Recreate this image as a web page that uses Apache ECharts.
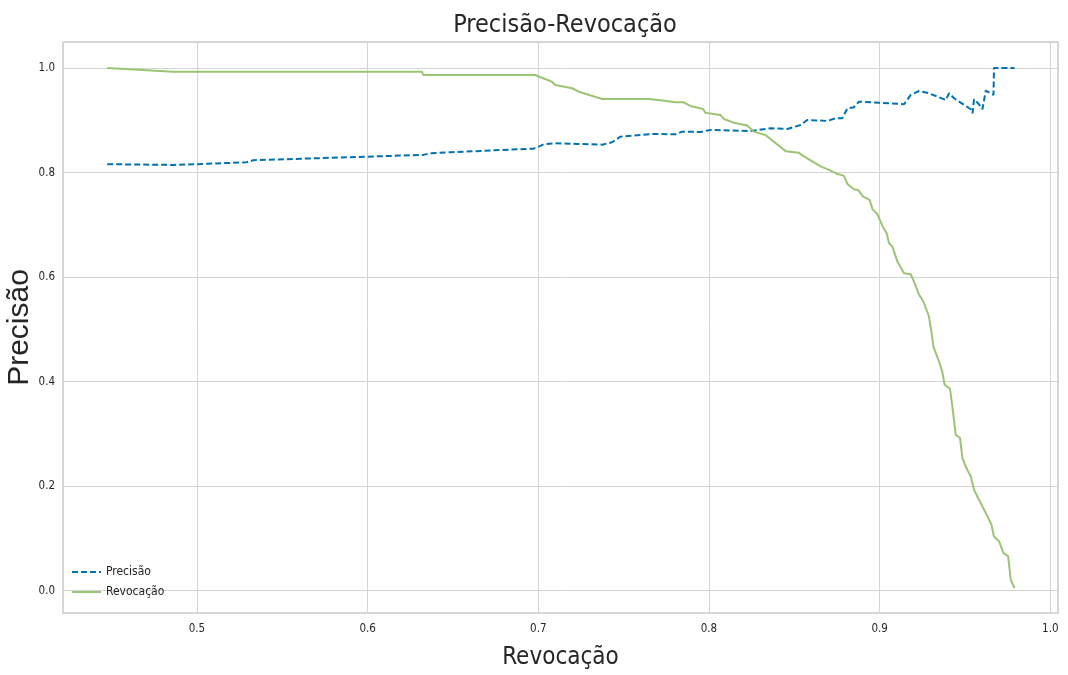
<!DOCTYPE html>
<html>
<head>
<meta charset="utf-8">
<script src="https://cdn.jsdelivr.net/npm/echarts@6/dist/echarts.min.js"></script>
<style>
html,body{margin:0;padding:0;background:#fff;}
#chart{width:1068px;height:675px;}
</style>
</head>
<body>
<div id="chart"></div>
<script>
// Tick labels
const xTicks = ['0.5', '0.6', '0.7', '0.8', '0.9', '1.0'];
const yTicks = ['0.0', '0.2', '0.4', '0.6', '0.8', '1.0'];

// Series "Precisão" (dashed blue)
const precX = [0.4474, 0.4861, 0.4998, 0.5291, 0.5330, 0.6327, 0.6367, 0.6484, 0.6894, 0.6972,
  0.7012, 0.7031, 0.7100, 0.7227, 0.7374, 0.7432, 0.7481, 0.7579, 0.7676, 0.7804,
  0.7843, 0.7950, 0.8009, 0.8243, 0.8361, 0.8459, 0.8537, 0.8576, 0.8693, 0.8742,
  0.8781, 0.8811, 0.8849, 0.8879, 0.8996, 0.9006, 0.9143, 0.9182, 0.9231, 0.9289,
  0.9387, 0.9407, 0.9436, 0.9534, 0.9544, 0.9553, 0.9582, 0.9602, 0.9622, 0.9667,
  0.9670, 0.9790];
const precY = [0.8159, 0.8145, 0.8159, 0.8197, 0.8235, 0.8337, 0.8369, 0.8388, 0.8446, 0.8457,
  0.8509, 0.8541, 0.8560, 0.8547, 0.8533, 0.8579, 0.8686, 0.8713, 0.8738, 0.8732,
  0.8782, 0.8776, 0.8815, 0.8795, 0.8847, 0.8834, 0.8910, 0.9006, 0.8987, 0.9038,
  0.9038, 0.9229, 0.9249, 0.9356, 0.9337, 0.9375, 0.9306, 0.9484, 0.9560, 0.9516,
  0.9388, 0.9516, 0.9421, 0.9210, 0.9134, 0.9401, 0.9306, 0.9210, 0.9566, 0.9484,
  1.0000, 1.0000];

// Series "Revocação" (solid green)
const revX = [0.4475, 0.4861, 0.6318, 0.6326, 0.6982, 0.7012, 0.7080, 0.7100, 0.7198, 0.7246,
  0.7374, 0.7647, 0.7716, 0.7804, 0.7852, 0.7891, 0.7966, 0.7979, 0.8067, 0.8087,
  0.8145, 0.8224, 0.8263, 0.8331, 0.8449, 0.8525, 0.8556, 0.8654, 0.8703, 0.8742,
  0.8791, 0.8811, 0.8849, 0.8874, 0.8903, 0.8941, 0.8959, 0.8986, 0.9016, 0.9041,
  0.9055, 0.9075, 0.9104, 0.9143, 0.9182, 0.9205, 0.9231, 0.9256, 0.9289, 0.9303,
  0.9315, 0.9348, 0.9367, 0.9381, 0.9412, 0.9426, 0.9446, 0.9471, 0.9485, 0.9504,
  0.9534, 0.9553, 0.9582, 0.9612, 0.9632, 0.9655, 0.9670, 0.9700, 0.9725, 0.9753,
  0.9768, 0.9790];
const revY = [1.0000, 0.9929, 0.9929, 0.9866, 0.9866, 0.9822, 0.9738, 0.9675, 0.9612, 0.9535,
  0.9407, 0.9407, 0.9382, 0.9344, 0.9344, 0.9273, 0.9216, 0.9145, 0.9101, 0.9025,
  0.8954, 0.8901, 0.8782, 0.8719, 0.8409, 0.8380, 0.8308, 0.8117, 0.8050, 0.7987,
  0.7935, 0.7782, 0.7681, 0.7667, 0.7539, 0.7476, 0.7291, 0.7208, 0.6979, 0.6839,
  0.6648, 0.6583, 0.6296, 0.6075, 0.6055, 0.5883, 0.5660, 0.5532, 0.5245, 0.4958,
  0.4671, 0.4384, 0.4187, 0.3939, 0.3862, 0.3524, 0.2983, 0.2920, 0.2537, 0.2377,
  0.2185, 0.1931, 0.1740, 0.1549, 0.1421, 0.1262, 0.1038, 0.0943, 0.0721, 0.0656,
  0.0210, 0.0052];

const pair = (xs, ys) => xs.map((x, i) => [x, ys[i]]);
const NARROW = '"Liberation Sans Narrow", "DejaVu Sans Condensed", "Liberation Sans", sans-serif';
const gridCol = '#d4d4d4';

const chart = echarts.init(document.getElementById('chart'));
chart.setOption({
  animation: false,
  backgroundColor: '#ffffff',
  title: {
    text: 'Precisão-Revocação',
    left: 560,
    textAlign: 'center',
    top: 8,
    textStyle: { fontFamily: NARROW, fontSize: 25, fontWeight: 'normal', color: '#262626' }
  },
  legend: {
    orient: 'vertical',
    left: 66,
    top: 561,
    itemGap: 8,
    itemWidth: 29,
    itemHeight: 13,
    itemStyle: { opacity: 0 },
    textStyle: { fontFamily: NARROW, fontSize: 12, color: '#262626' },
    data: ['Precisão', 'Revocação']
  },
  grid: {
    left: 63, right: 10, top: 42, bottom: 62,
    containLabel: false,
    outerBoundsMode: 'none',
    show: true, borderColor: '#cccccc', borderWidth: 1.5
  },
  xAxis: {
    type: 'value',
    min: 0.4215,
    max: 1.0045,
    splitNumber: 5,
    name: 'Revocação',
    nameLocation: 'middle',
    nameGap: 33,
    nameMoveOverlap: false,
    nameTextStyle: { fontFamily: NARROW, fontSize: 24, color: '#262626' },
    axisLine: { show: false },
    axisTick: { show: false },
    axisLabel: {
      showMinLabel: false, showMaxLabel: false, margin: 10,
      fontFamily: NARROW, fontSize: 11.5, color: '#262626',
      formatter: v => { const s = v.toFixed(1); return xTicks.includes(s) ? s : ''; }
    },
    splitLine: { show: true, lineStyle: { color: gridCol, width: 1 } }
  },
  yAxis: {
    type: 'value',
    min: -0.0427,
    max: 1.0497,
    splitNumber: 5,
    name: 'Precisão',
    nameLocation: 'middle',
    nameGap: 28,
    nameMoveOverlap: false,
    nameTextStyle: { fontFamily: '"Liberation Sans", Arial, sans-serif', fontSize: 30, color: '#262626' },
    axisLine: { show: false },
    axisTick: { show: false },
    axisLabel: {
      showMinLabel: false, showMaxLabel: false, margin: 8,
      fontFamily: NARROW, fontSize: 11.5, color: '#262626',
      formatter: v => { const s = v.toFixed(1); return yTicks.includes(s) ? s : ''; }
    },
    splitLine: { show: true, lineStyle: { color: gridCol, width: 1 } }
  },
  series: [
    {
      name: 'Precisão',
      type: 'line',
      data: pair(precX, precY),
      showSymbol: false,
      symbol: 'none',
      color: '#0072B2',
      lineStyle: { color: '#0072B2', width: 2, type: [6, 3] }
    },
    {
      name: 'Revocação',
      type: 'line',
      data: pair(revX, revY),
      showSymbol: false,
      symbol: 'none',
      color: '#9BC474',
      lineStyle: { color: '#9BC474', width: 2 }
    }
  ]
});
</script>
</body>
</html>
